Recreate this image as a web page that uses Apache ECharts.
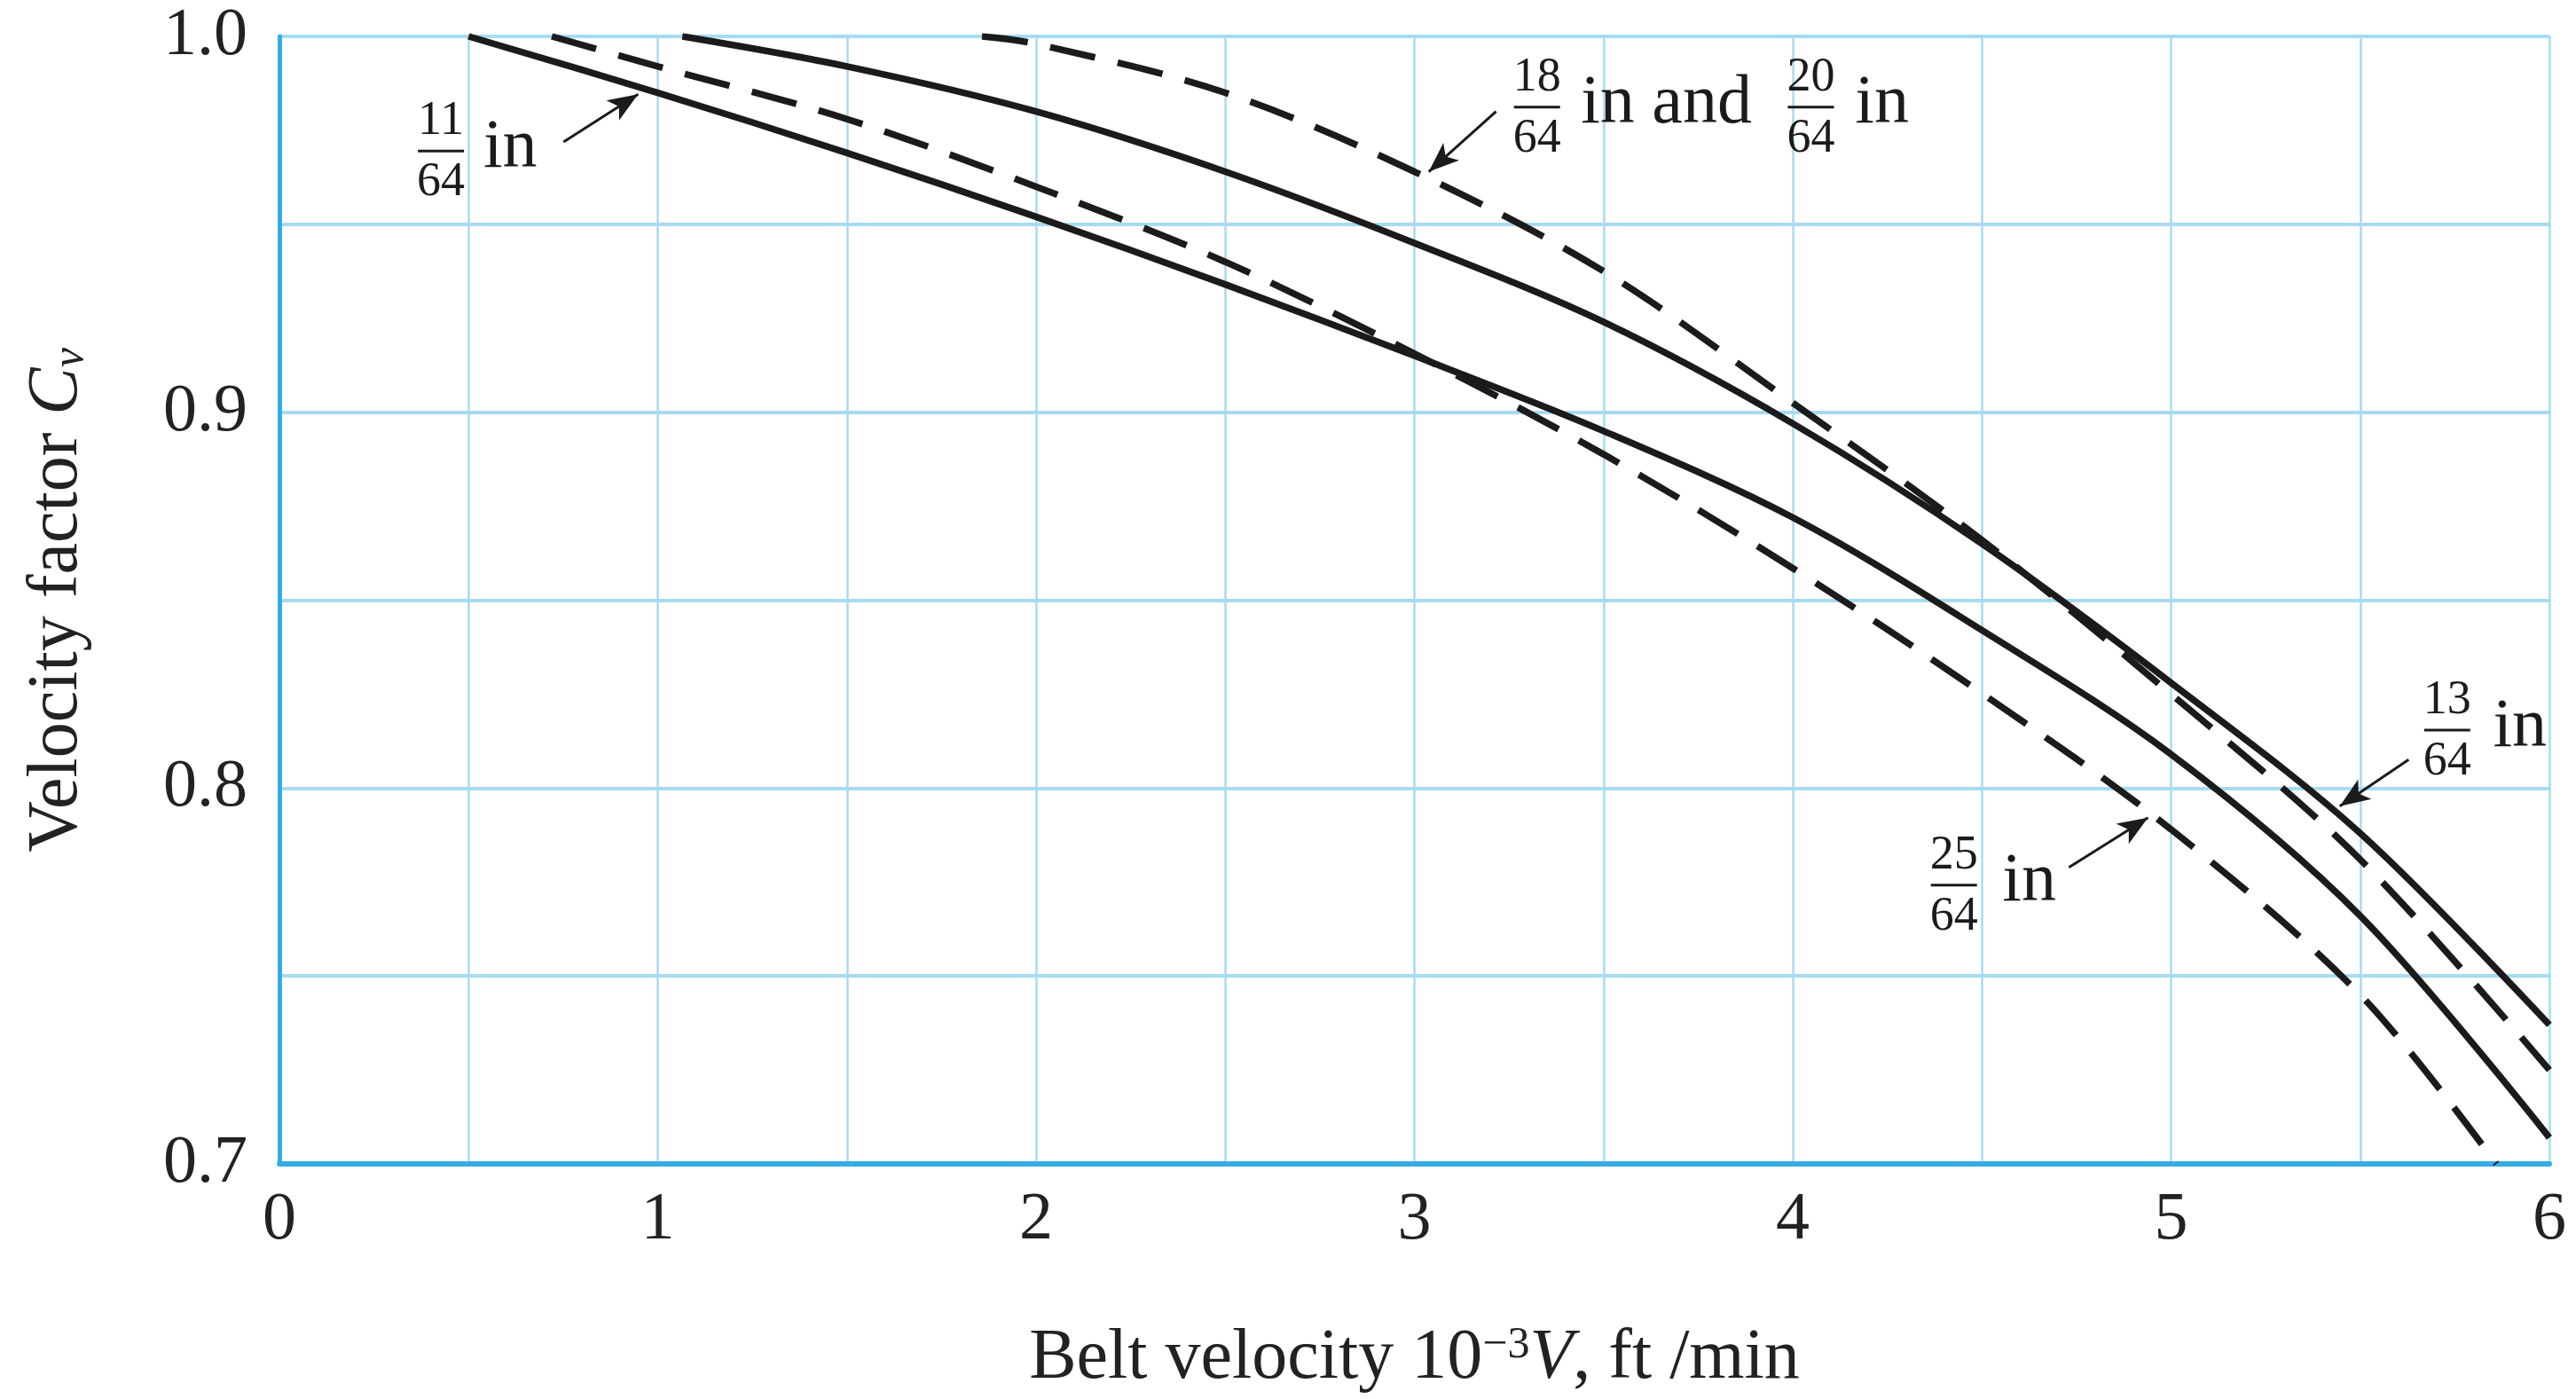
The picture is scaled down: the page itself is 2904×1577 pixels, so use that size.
<!DOCTYPE html>
<html><head><meta charset="utf-8">
<script src="https://cdn.jsdelivr.net/npm/echarts@6/dist/echarts.min.js"></script>
<style>html,body{margin:0;padding:0;background:#fff}#c{width:2904px;height:1577px}</style>
</head><body><div id="c"></div>
<script>
// ---- data ----
const xTicks = [0, 1, 2, 3, 4, 5, 6];
const yTicks = [0.7, 0.8, 0.9, 1.0];
// 11/64 in (solid)
const v11  = [0.5, 1.0, 1.5, 2.0, 2.5, 3.0, 3.5, 4.0, 4.5, 5.0, 5.5, 6.0];
const cv11 = [1.0, 0.985, 0.969, 0.952, 0.934, 0.915, 0.895, 0.872, 0.842, 0.809, 0.766, 0.707];
// 13/64 in (solid)
const v13  = [1.065, 1.5, 2.0, 2.5, 3.0, 3.5, 4.0, 4.5, 5.0, 5.5, 6.0];
const cv13 = [1.0, 0.992, 0.980, 0.964, 0.945, 0.924, 0.897, 0.865, 0.828, 0.788, 0.737];
// 18/64 in and 20/64 in (dashed)
const v18  = [1.857, 2.0, 2.5, 3.0, 3.5, 4.0, 4.5, 5.0, 5.5, 6.0];
const cv18 = [1.0, 0.998, 0.985, 0.964, 0.9375, 0.9025, 0.866, 0.825, 0.781, 0.725];
// 25/64 in (dashed)
const v25  = [0.72, 1.0, 1.5, 2.0, 2.5, 3.0, 3.5, 4.0, 4.5, 5.0, 5.5, 5.86];
const cv25 = [1.0, 0.992, 0.978, 0.960, 0.940, 0.9156, 0.8888, 0.8585, 0.8252, 0.789, 0.745, 0.700];

// annotation anchors (data coordinates)
const notes = [
  {fracs: [['11', '64', 0.427]], words: [['in', 0.539]], bar: 0.9695, arrow: [[0.751, 0.9719], [0.948, 0.9846]]},
  {fracs: [['18', '64', 3.324], ['20', '64', 4.048]], words: [['in and', 3.44], ['in', 4.165]], bar: 0.9812, arrow: [[3.216, 0.980], [3.038, 0.964]]},
  {fracs: [['13', '64', 5.730]], words: [['in', 5.851]], bar: 0.8154, arrow: [[5.628, 0.8076], [5.446, 0.7952]]},
  {fracs: [['25', '64', 4.426]], words: [['in', 4.554]], bar: 0.7742, arrow: [[4.730, 0.7789], [4.939, 0.7921]]}
];

const FONT = '"Liberation Serif", "Times New Roman", serif';
const INK = '#1b1b1b';
const pairs = (xs, ys) => xs.map((x, i) => [x, ys[i]]);
const arrowML = (n) => ({
  silent: true, symbol: ['none', 'arrow'], symbolSize: [20, 34], label: {show: false},
  lineStyle: {color: INK, width: 3, type: 'solid'},
  data: [[{coord: n.arrow[0]}, {coord: n.arrow[1]}]]
});
const base = {type: 'line', symbol: 'none', smooth: 0.33, silent: true, z: 5};

const chart = echarts.init(document.getElementById('c'), null, {renderer: 'canvas'});
chart.setOption({
  animation: false,
  backgroundColor: '#ffffff',
  grid: {left: 315, right: 30, top: 41, bottom: 255, containLabel: false},
  xAxis: {
    type: 'value', min: 0, max: 6, interval: 0.5,
    axisLine: {show: true, onZero: false, lineStyle: {color: '#36ade2', width: 6}},
    axisTick: {show: false},
    axisLabel: {
      formatter: v => xTicks.includes(v) ? String(v) : '',
      fontFamily: FONT, fontSize: 76, color: '#222', margin: 26
    },
    splitLine: {show: true, lineStyle: {color: '#a7dbf2', width: 2.5}},
    name: '{n|Belt velocity 10}{sup|\u22123}{i|V}{n|, ft /min}',
    nameLocation: 'middle', nameGap: 180,
    nameTextStyle: {
      rich: {
        n: {fontFamily: FONT, fontSize: 80, color: '#222'},
        sup: {fontFamily: FONT, fontSize: 50, color: '#222', verticalAlign: 'top'},
        i: {fontFamily: FONT, fontSize: 80, fontStyle: 'italic', color: '#222'}
      }
    }
  },
  yAxis: {
    type: 'value', min: 0.7, max: 1.0, interval: 0.05,
    axisLine: {show: true, onZero: false, lineStyle: {color: '#36ade2', width: 5}},
    axisTick: {show: false},
    axisLabel: {
      formatter: v => yTicks.some(t => Math.abs(t - v) < 1e-6) ? v.toFixed(1) : '',
      fontFamily: FONT, fontSize: 76, color: '#222', margin: 36
    },
    splitLine: {show: true, lineStyle: {color: '#a7dbf2', width: 4}},
    name: '{n|Velocity factor }{i|C}{sub|v}',
    nameLocation: 'middle', nameGap: 210, nameRotate: 90,
    nameTextStyle: {
      rich: {
        n: {fontFamily: FONT, fontSize: 80, color: '#222'},
        i: {fontFamily: FONT, fontSize: 80, fontStyle: 'italic', color: '#222'},
        sub: {fontFamily: FONT, fontSize: 50, fontStyle: 'italic', color: '#222', verticalAlign: 'bottom', padding: [18, 0, 0, 0]}
      }
    }
  },
  series: [
    Object.assign({}, base, {name: '11/64 in', data: pairs(v11, cv11), lineStyle: {color: INK, width: 7.5, type: 'solid'}, markLine: arrowML(notes[0])}),
    Object.assign({}, base, {name: '13/64 in', data: pairs(v13, cv13), lineStyle: {color: INK, width: 7.5, type: 'solid'}, markLine: arrowML(notes[2])}),
    Object.assign({}, base, {name: '18/64 in and 20/64 in', data: pairs(v18, cv18), lineStyle: {color: INK, width: 7.5, type: [52, 26]}, markLine: arrowML(notes[1])}),
    Object.assign({}, base, {name: '25/64 in', data: pairs(v25, cv25), lineStyle: {color: INK, width: 7.5, type: [52, 26]}, markLine: arrowML(notes[3])})
  ]
});

// ---- annotation text placed through the chart's own coordinate system ----
const P = (x, y) => chart.convertToPixel({gridIndex: 0}, [x, y]);
function txt(x, y, s, size, align) {
  return {type: 'text', x: x, y: y, silent: true, z: 20,
    style: {text: s, fontFamily: FONT, fontSize: size, fill: INK, align: align || 'center', verticalAlign: 'middle'}};
}
const elems = [];
notes.forEach(n => {
  n.fracs.forEach(f => {
    const p = P(f[2], n.bar);
    elems.push(txt(p[0], p[1] - 33, f[0], 54));
    elems.push({type: 'line', silent: true, z: 20, shape: {x1: p[0] - 26, y1: p[1], x2: p[0] + 26, y2: p[1]}, style: {stroke: INK, lineWidth: 3}});
    elems.push(txt(p[0], p[1] + 36, f[1], 54));
  });
  n.words.forEach(w => {
    const p = P(w[1], n.bar);
    elems.push(txt(p[0], p[1] - 3, w[0], 78, 'left'));
  });
});
chart.setOption({graphic: elems});
</script>
</body></html>
